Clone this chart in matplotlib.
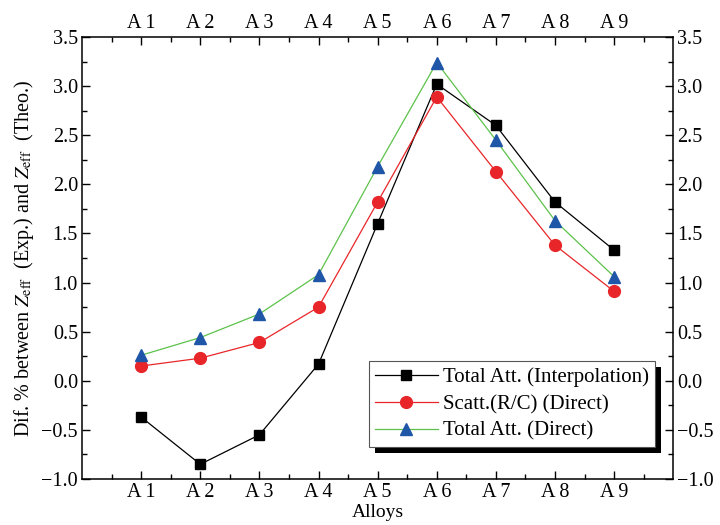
import matplotlib
matplotlib.use('Agg')
import matplotlib.pyplot as plt
from matplotlib.patches import Rectangle
import numpy as np

plt.rcParams['font.family'] = 'Liberation Serif'
plt.rcParams['mathtext.fontset'] = 'stix'
plt.rcParams['font.size'] = 14.5

alloys = ['A 1', 'A 2', 'A 3', 'A 4', 'A 5', 'A 6', 'A 7', 'A 8', 'A 9']
interp_total = [-0.37, -0.85, -0.55, 0.17, 1.60, 3.02, 2.60, 1.82, 1.33]
direct_scatt = [0.15, 0.23, 0.39, 0.75, 1.82, 2.89, 2.13, 1.38, 0.91]
direct_total = [0.26, 0.44, 0.68, 1.08, 2.18, 3.24, 2.45, 1.63, 1.06]

x = np.arange(1, len(alloys) + 1)

fig = plt.figure(figsize=(7.2, 5.25), dpi=100)
ax = fig.add_axes([0.114, 0.0876, 0.821, 0.842])

ax.plot(x, interp_total, '-s', color='black', lw=0.9, ms=7.5,
        label='Total Att. (Interpolation)')
ax.plot(x, direct_scatt, '-o', color='#e8262a', mec='#e8262a', lw=0.9, ms=8.5,
        label='Scatt.(R/C) (Direct)')
ax.plot(x, direct_total, '-^', color='#5cc24a', mfc='#1f56a8', mec='#1f56a8',
        lw=0.9, ms=9, label='Total Att. (Direct)')

ax.set_xlim(0, 10)
ax.set_ylim(-1.0, 3.5)
ax.set_xticks(x)
ax.set_xticklabels(alloys)
ax.set_xticks(np.arange(0.5, 10, 1.0), minor=True)
ax.set_yticks(np.arange(-1.0, 3.51, 0.5))
ax.set_yticks(np.arange(-0.75, 3.5, 0.5), minor=True)
ax.yaxis.set_major_formatter(
    matplotlib.ticker.FuncFormatter(lambda v, p: ('%.1f' % v).replace('-', '\u2212')))

ax.tick_params(which='both', direction='in', top=True, right=True,
               labeltop=True, labelright=True, pad=3)
ax.tick_params(which='major', length=6, width=1)
ax.tick_params(which='minor', length=3.5, width=1)
for s in ax.spines.values():
    s.set_linewidth(1.1)

ax.set_xlabel('Alloys', labelpad=1, fontsize=14)
ax.set_ylabel(r'Dif. % between $Z_{\mathrm{eff}}$  (Exp.) and $Z_{\mathrm{eff}}$  (Theo.)',
              labelpad=4)

leg = ax.legend(loc='lower right', bbox_to_anchor=(0.9695, 0.072),
                fancybox=False, edgecolor='#555555', framealpha=1,
                fontsize=15, handlelength=3.0, borderpad=0.3,
                labelspacing=0.35, handletextpad=0.25, borderaxespad=0)
leg.get_frame().set_linewidth(0.8)

# drop shadow behind the legend box
fig.canvas.draw()
bb = leg.get_window_extent()
ax.add_patch(Rectangle((bb.x0 + 6, bb.y0 - 6), bb.width, bb.height,
                       transform=None, facecolor='black', edgecolor='none',
                       zorder=4.9, clip_on=False))

plt.savefig('out.png', dpi=100)
